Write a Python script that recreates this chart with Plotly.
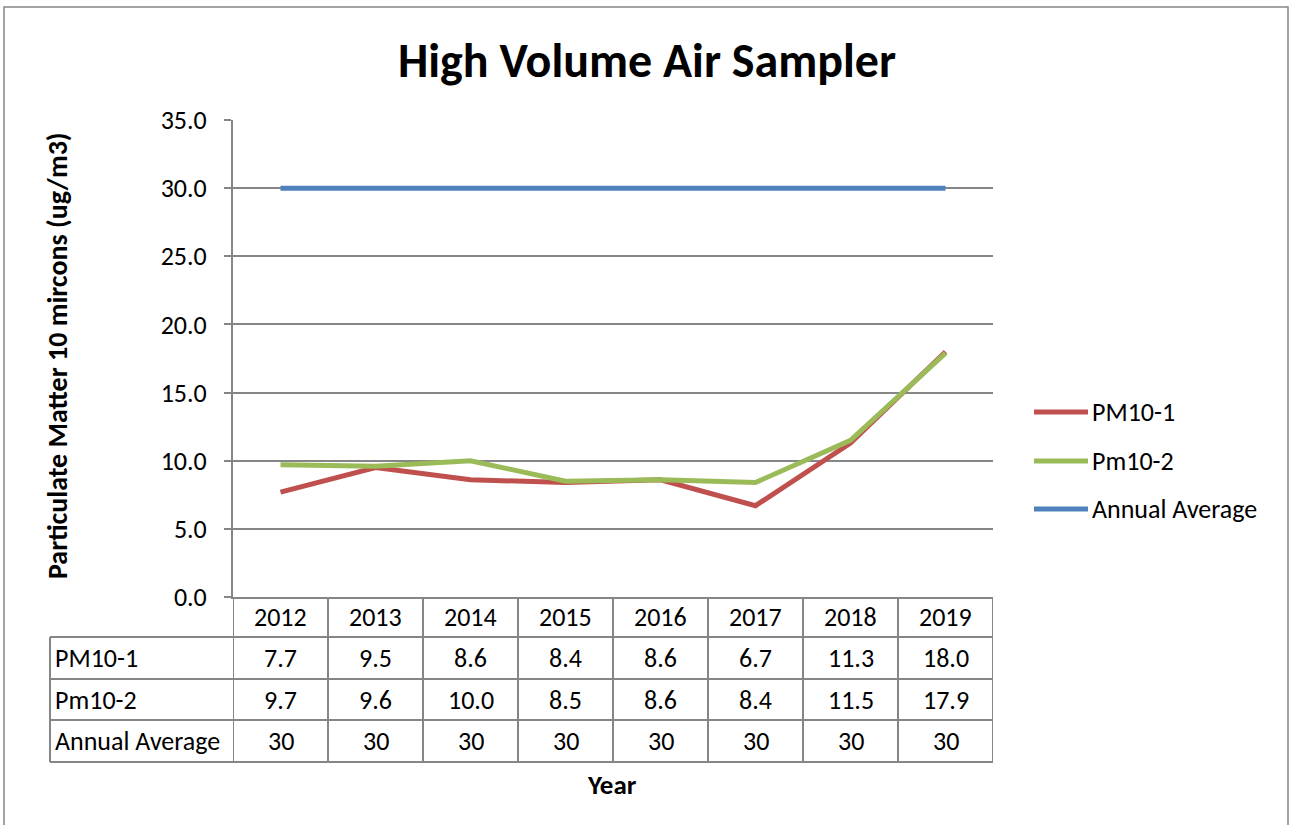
import plotly.graph_objects as go

YEARS = ["2012", "2013", "2014", "2015", "2016", "2017", "2018", "2019"]
PM10_1 = [7.7, 9.5, 8.6, 8.4, 8.6, 6.7, 11.3, 18.0]
PM10_2 = [9.7, 9.6, 10.0, 8.5, 8.6, 8.4, 11.5, 17.9]
ANNUAL_AVG = [30, 30, 30, 30, 30, 30, 30, 30]

SERIES = [
  ("PM10-1", PM10_1, "#C0504D", "{:.1f}"),
  ("Pm10-2", PM10_2, "#9BBB59", "{:.1f}"),
  ("Annual Average", ANNUAL_AVG, "#4F81BD", "{:d}"),
]

FONT = "Calibri, Carlito, Lato, sans-serif"
GRID = "#868686"
W, H = 1290, 825
# plot area in pixels
L, R, T, B = 233, 993, 120, 597


def px(x):
  return (x - L) / (R - L)


def py(y):
  return (B - y) / (B - T)


fig = go.Figure()
for name, vals, color, _ in SERIES:
  fig.add_trace(
    go.Scatter(
      x=YEARS,
      y=vals,
      name=name,
      mode="lines",
      line=dict(color=color, width=5),
      showlegend=False,
    )
  )

shapes = []
annotations = []

# outer chart border
shapes.append(dict(type="rect", xref="paper", yref="paper",
                   x0=px(4), x1=px(1288), y0=py(7), y1=py(835),
                   line=dict(color=GRID, width=1.5)))

# data table under the axis
row_lines = [637, 679, 720, 762]
for y in row_lines:
  shapes.append(dict(type="line", xref="paper", yref="paper",
                     x0=px(50), x1=1, y0=py(y), y1=py(y),
                     line=dict(color=GRID, width=2)))
for k in range(len(YEARS) + 1):
  shapes.append(dict(type="line", xref="x", yref="paper",
                     x0=k - 0.5, x1=k - 0.5, y0=0, y1=py(762),
                     line=dict(color=GRID, width=2)))
shapes.append(dict(type="line", xref="paper", yref="paper",
                   x0=px(50), x1=px(50), y0=py(637), y1=py(762),
                   line=dict(color=GRID, width=2)))

cell_font = dict(family=FONT, size=26, color="black")
for i, yr in enumerate(YEARS):
  annotations.append(dict(x=i, y=py(617), xref="x", yref="paper", text=yr,
                          xanchor="center", yanchor="middle",
                          showarrow=False, font=cell_font))
row_centers = [658, 700, 741]
for (name, vals, color, fmt), yc in zip(SERIES, row_centers):
  annotations.append(dict(x=px(53), y=py(yc), xref="paper", yref="paper",
                          text=name, showarrow=False, xanchor="left",
                          yanchor="middle", font=cell_font))
  for i, v in enumerate(vals):
    annotations.append(dict(x=i, y=py(yc), xref="x", yref="paper",
                            text=fmt.format(v), showarrow=False,
                            xanchor="center", yanchor="middle",
                            font=cell_font))

# legend drawn by hand so the line keys match the original length
legend_rows = [412, 461, 509]
for (name, vals, color, _), yc in zip(SERIES, legend_rows):
  shapes.append(dict(type="line", xref="paper", yref="paper",
                     x0=px(1034), x1=px(1088), y0=py(yc), y1=py(yc),
                     line=dict(color=color, width=5)))
  annotations.append(dict(x=px(1090), y=py(yc), xref="paper", yref="paper",
                          text=name, showarrow=False, xanchor="left",
                          yanchor="middle", font=cell_font))

annotations.append(dict(x=px(57), y=py(356), xref="paper", yref="paper",
                        text="Particulate Matter 10 mircons (ug/m3)",
                        textangle=-90, showarrow=False,
                        xanchor="center", yanchor="middle",
                        font=dict(family=FONT, size=28, color="black", weight="bold")))
annotations.append(dict(x=px(612), y=py(784), xref="paper", yref="paper",
                        text="Year", showarrow=False,
                        xanchor="center", yanchor="middle",
                        font=dict(family=FONT, size=27, color="black", weight="bold")))

fig.update_layout(
  width=W,
  height=H,
  autosize=False,
  margin=dict(l=L, r=W - R, t=T, b=H - B),
  paper_bgcolor="white",
  plot_bgcolor="white",
  font=dict(family=FONT, color="black"),
  title=dict(
    text="High Volume Air Sampler",
    xref="container", yref="container",
    x=647 / W, y=1 - 60 / H,
    xanchor="center", yanchor="middle",
    font=dict(family=FONT, size=48, color="black", weight="bold"),
  ),
  xaxis=dict(
    type="category",
    range=[-0.5, len(YEARS) - 0.5],
    showticklabels=False,
    showgrid=False,
    showline=True,
    linecolor=GRID,
    linewidth=2,
    ticks="",
    zeroline=False,
  ),
  yaxis=dict(
    range=[0, 35],
    dtick=5,
    tickformat=".1f",
    showgrid=True,
    gridcolor=GRID,
    gridwidth=2,
    showline=True,
    linecolor=GRID,
    linewidth=2,
    ticks="outside",
    ticklen=7,
    tickwidth=2,
    tickcolor=GRID,
    ticklabelstandoff=12,
    zeroline=False,
    tickfont=dict(family=FONT, size=26, color="black"),
  ),
  shapes=shapes,
  annotations=annotations,
)

# drop the browser's default body margin so the chart sits at the page corner
fig.write_html(
  "out.html",
  config={"displayModeBar": False},
  post_script="document.body.style.margin = '0';",
)
